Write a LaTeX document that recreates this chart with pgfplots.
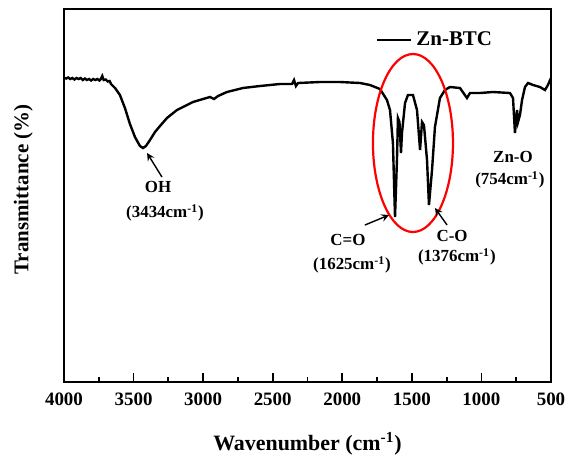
\documentclass[border=0pt]{standalone}
\usepackage{fontspec}
\setmainfont{Liberation Serif}
\usepackage{pgfplots}
\pgfplotsset{compat=1.18}
\newcommand{\inv}{\textsuperscript{-1}}
\begin{document}
\begin{tikzpicture}
\begin{axis}[
  scale only axis,
  width=243.5bp, height=186.5bp,
  x dir=reverse,
  xmin=500, xmax=4000,
  ymin=0, ymax=373,
  xtick={500,1000,...,4000},
  minor x tick num=1,
  ytick=\empty,
  xtick pos=bottom,
  tick align=inside,
  major tick length=4.5bp,
  minor tick length=2.5bp,
  axis line style={line width=1.1bp},
  every tick/.style={line width=0.9bp, black},
  /pgf/number format/assume math mode=true,
  /pgf/number format/set thousands separator={},
  ticklabel style={font=\fontsize{9.5}{11}\selectfont\bfseries},
  xticklabel style={yshift=-2bp},
  xlabel={Wavenumber (cm\inv)},
  ylabel={Transmittance (\%)},
  xlabel style={font=\fontsize{11}{13}\selectfont\bfseries, yshift=-6.5bp},
  ylabel style={font=\fontsize{10.5}{13}\selectfont\bfseries, yshift=12bp, xshift=3bp},
  legend style={draw=none, fill=none, at={(0.64,0.917)}, anchor=west,
    font=\fontsize{10.5}{12}\selectfont\bfseries, inner sep=0pt},
  legend cell align=left,
  clip=false,
]
\addplot[black, line width=1.2bp] coordinates {
(4000,304) (3985,303.5) (3970,304.5) (3955,303) (3940,304) (3925,302.5) (3910,304)
(3895,303) (3880,304) (3865,302) (3850,303.5) (3835,302) (3820,303) (3805,301.5)
(3790,303) (3775,302) (3760,303) (3745,301.5) (3735,303) (3725,306) (3715,302)
(3700,302.5) (3685,300.5) (3672,301) (3662,298)
(3633,294) (3598,287) (3562,274) (3526,258) (3490,245) (3454,236) (3432,234)
(3411,236) (3382,242) (3346,250) (3310,256) (3260,264) (3188,272) (3130,276)
(3073,280) (3001,283) (2951,285) (2922,283) (2893,286) (2829,290) (2714,294)
(2591,296) (2448,298) (2361,298) (2347,302) (2333,296) (2318,299) (2160,300)
(2016,300) (1873,299) (1801,297) (1729,293) (1679,282) (1657,272) (1636,239)
(1621,165) (1607,222) (1600,264) (1589,260) (1578,229) (1571,249) (1549,279)
(1528,287) (1492,287) (1463,272) (1441,232) (1427,260) (1413,257) (1391,222)
(1377,177) (1355,212) (1334,255) (1298,284) (1262,292) (1226,295) (1154,294)
(1104,284) (1082,289) (1010,289) (917,290) (795,289) (773,284) (759,249)
(744,272) (737,260) (723,267) (708,282) (687,295) (665,299) (629,297)
(579,295) (543,292) (522,297) (500,304)
};
\addlegendentry{Zn-BTC}

\draw[red, line width=1.1bp] (axis cs:1492,239) ellipse [x radius=20bp, y radius=44.5bp];

\tikzset{ann/.style={font=\fontsize{8.5}{10}\selectfont\bfseries, inner sep=0pt}}
\node[ann] at (axis cs:3324,195) {OH};
\node[ann] at (axis cs:3274,169) {(3434cm\inv)};
\draw[-stealth, line width=0.7bp] (axis cs:3296,205) -- (axis cs:3403,229);

\node[ann] at (axis cs:1959,142) {C=O};
\node[ann] at (axis cs:1930,117) {(1625cm\inv)};
\draw[-stealth, line width=0.7bp] (axis cs:1837,157) -- (axis cs:1664,167);

\node[ann] at (axis cs:1211,146) {C-O};
\node[ann] at (axis cs:1176,125) {(1376cm\inv)};
\draw[-stealth, line width=0.7bp] (axis cs:1247,157) -- (axis cs:1334,174);

\node[ann] at (axis cs:773,225) {Zn-O};
\node[ann] at (axis cs:795,202) {(754cm\inv)};
\end{axis}
\pgfresetboundingbox
\path[use as bounding box] ([shift={(-32bp,-38.5bp)}]current axis.south west) rectangle ([shift={(8.5bp,4.5bp)}]current axis.north east);
\end{tikzpicture}
\end{document}
